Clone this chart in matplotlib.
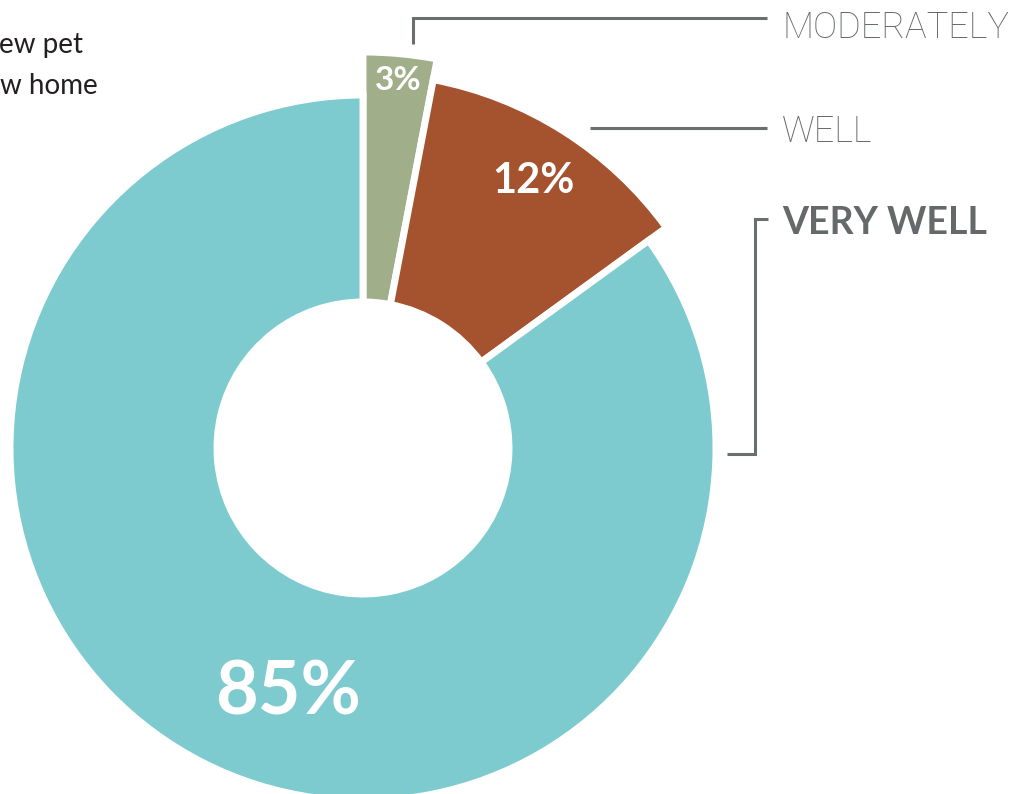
import matplotlib
matplotlib.use("Agg")
import matplotlib.pyplot as plt
import numpy as np

# ---- data ----
categories = ["MODERATELY", "WELL", "VERY WELL"]
values = [3, 12, 85]
pct_labels = ["3%", "12%", "85%"]
colors = ["#a0af89", "#a5532f", "#7ecbcf"]
intro_lines = ["ew pet", "w home"]

W, H = 1034, 794
fig = plt.figure(figsize=(W / 100, H / 100), dpi=100)
ax = fig.add_axes([0, 0, 1, 1])

cx, cy = 363, 448   # centre in pixels from top-left
R_base = 353
inner = 146
outer_r = [396, 375, 353]   # per-slice outer radius

wedges, _ = ax.pie(values, colors=colors, startangle=90, counterclock=False,
                   radius=R_base, center=(0, 0),
                   wedgeprops=dict(width=R_base - inner, edgecolor="white", linewidth=5))
for w, r in zip(wedges, outer_r):
    w.set_radius(r)
    w.set_width(r - inner)

ax.set_xlim(-cx, W - cx)
ax.set_ylim(-(H - cy), cy)
ax.set_aspect("equal")
ax.axis("off")

def P(x, y):
    return x - cx, cy - y

# percentage labels
pct_font = ["Lato", "DejaVu Sans"]
ax.text(*P(398, 81), pct_labels[0], ha="center", va="center", color="white",
        fontsize=24, fontweight="bold", family=pct_font)
ax.text(*P(533, 181), pct_labels[1], ha="center", va="center", color="white",
        fontsize=30, fontweight="bold", family=pct_font)
ax.text(*P(288, 693), pct_labels[2], ha="center", va="center", color="white",
        fontsize=53, fontweight="bold", family=pct_font)

# category labels
gray = "#65696a"
ax.text(*P(782, 28), categories[0], ha="left", va="center", color=gray,
        fontsize=26, fontweight="light", family=["Roboto", "DejaVu Sans"])
ax.text(*P(782, 132), categories[1], ha="left", va="center", color=gray,
        fontsize=26, fontweight="light", family=["Roboto", "DejaVu Sans"])
ax.text(*P(782, 223), categories[2], ha="left", va="center", color=gray,
        fontsize=27, fontweight="bold", family=["Lato", "DejaVu Sans"])

# connector lines
lc = "#6b6e6e"
lw = 2.2
def line(pts):
    xs, ys = zip(*[P(x, y) for x, y in pts])
    ax.plot(xs, ys, color=lc, lw=lw, solid_capstyle="butt", solid_joinstyle="miter")

line([(413, 44), (413, 18), (767, 18)])
line([(590, 128), (767, 128)])
line([(768, 219), (755, 219), (755, 454), (727, 454)])

# intro text (cropped at the left, as in the reference)
ax.text(*P(-1, 45), intro_lines[0], ha="left", va="center", color="#231f20",
        fontsize=20, family=["Lato", "DejaVu Sans"])
ax.text(*P(0, 86), intro_lines[1], ha="left", va="center", color="#231f20",
        fontsize=20, family=["Lato", "DejaVu Sans"])

fig.savefig("out.png", dpi=100, facecolor="white")
